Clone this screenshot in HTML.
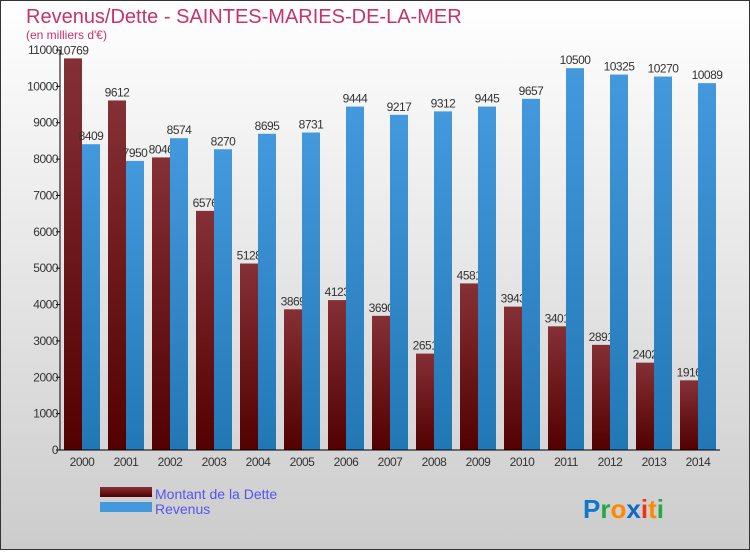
<!DOCTYPE html>
<html><head><meta charset="utf-8"><style>
body{margin:0}
svg text{font-family:"Liberation Sans",sans-serif}
</style></head><body>
<svg width="750" height="550" xmlns="http://www.w3.org/2000/svg">
<defs>
<linearGradient id="bg" x1="0" y1="0" x2="0" y2="1"><stop offset="0" stop-color="#ffffff"/><stop offset="1" stop-color="#cccccc"/></linearGradient>
<linearGradient id="rg" x1="0" y1="0" x2="0" y2="1"><stop offset="0" stop-color="#853035"/><stop offset="1" stop-color="#520000"/></linearGradient>
<linearGradient id="bgb" x1="0" y1="0" x2="0" y2="1"><stop offset="0" stop-color="#4499dd"/><stop offset="1" stop-color="#2277b5"/></linearGradient>
</defs>
<rect x="0.5" y="0.5" width="749" height="549" fill="url(#bg)" stroke="#333"/>
<text x="26" y="23" font-size="20" fill="#c8326a">Revenus/Dette - SAINTES-MARIES-DE-LA-MER</text>
<text x="26" y="39" font-size="12" fill="#c8326a">(en milliers d'€)</text>
<g id="plot"></g>
<rect x="100" y="487" width="52" height="10" fill="url(#rg)"/>
<text x="155" y="499" font-size="14" fill="#5555ee">Montant de la Dette</text>
<rect x="100" y="502" width="52" height="10" fill="#4499dd"/>
<text x="155" y="514" font-size="14" fill="#5555ee">Revenus</text>
<text x="583" y="518" font-size="26" font-weight="bold"><tspan fill="#1177cc">P</tspan><tspan fill="#22aa44">r</tspan><tspan fill="#ff8800">o</tspan><tspan fill="#1166cc">x</tspan><tspan fill="#ee3311">i</tspan><tspan fill="#ff8800">t</tspan><tspan fill="#22aa44">i</tspan></text>
</svg>
<script>
const years=["2000","2001","2002","2003","2004","2005","2006","2007","2008","2009","2010","2011","2012","2013","2014"];
const dette=[10769,9612,8046,6576,5128,3869,4123,3690,2651,4581,3943,3401,2891,2402,1916];
const revenus=[8409,7950,8574,8270,8695,8731,9444,9217,9312,9445,9657,10500,10325,10270,10089];
const yTicks=[0,1000,2000,3000,4000,5000,6000,7000,8000,9000,10000,11000];
const NS="http://www.w3.org/2000/svg";
const g=document.getElementById('plot');
const x0=60,x1=720,y0=450,yMax=11000,h=400;
const band=(x1-x0)/years.length;
const y=v=>y0-v/yMax*h;
const xb=i=>x0+i*band;
function mk(t,a,txt){const e=document.createElementNS(NS,t);for(const k in a)e.setAttribute(k,a[k]);if(txt!=null)e.textContent=txt;g.appendChild(e);return e;}
yTicks.forEach(v=>{
const l=mk('line',{x1:x0-4,x2:x0,y1:y(v),y2:y(v),stroke:'#000'});


const t=mk('text',{x:x0-2,y:y(v)+4,'font-size':12,'text-anchor':'end',fill:'#333','letter-spacing':'-0.5'},String(v));


});
years.forEach((yr,i)=>{
const r=mk('rect',{x:xb(i)+4,y:y(dette[i]),width:18,height:y0-y(dette[i]),fill:'url(#rg)'});


const t=mk('text',{x:xb(i)+13,y:y(dette[i])-4,'font-size':12,'text-anchor':'middle',fill:'#333','letter-spacing':'-0.5'},String(dette[i]));


});
years.forEach((yr,i)=>{
const r=mk('rect',{x:xb(i)+22,y:y(revenus[i]),width:18,height:y0-y(revenus[i]),fill:'url(#bgb)'});


const t=mk('text',{x:xb(i)+31,y:y(revenus[i])-4,'font-size':12,'text-anchor':'middle',fill:'#333','letter-spacing':'-0.5'},String(revenus[i]));


const xl=mk('text',{x:xb(i)+22,y:466,'font-size':12,'text-anchor':'middle',fill:'#333','letter-spacing':'-0.5'},yr);


});
const ax=mk('line',{x1:x0,x2:x0,y1:y(yMax),y2:y0,stroke:'#000'});


const bx=mk('line',{x1:x0,x2:x1,y1:y0,y2:y0,stroke:'#000'});


</script>
</body></html>
